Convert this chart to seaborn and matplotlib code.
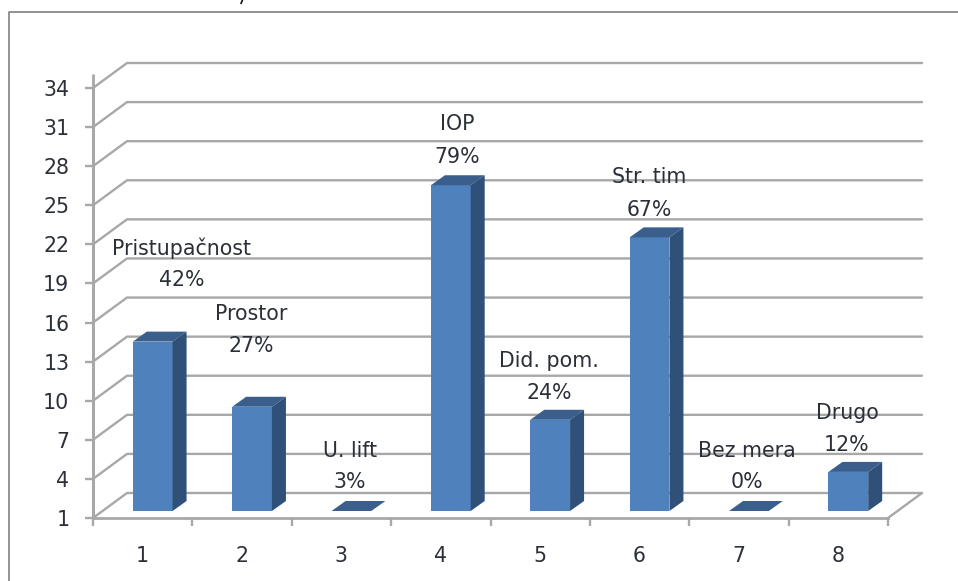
import numpy as np
import seaborn as sns
import matplotlib
matplotlib.use('Agg')
import matplotlib.pyplot as plt
from matplotlib.lines import Line2D

categories = ['1', '2', '3', '4', '5', '6', '7', '8']
values = [14, 9, 1, 26, 8, 22, 0, 4]
names = ['Pristupačnost', 'Prostor', 'U. lift', 'IOP', 'Did. pom.', 'Str. tim', 'Bez mera', 'Drugo']
percents = ['42%', '27%', '3%', '79%', '24%', '67%', '0%', '12%']
y_ticks = [1, 4, 7, 10, 13, 16, 19, 22, 25, 28, 31, 34]

W, H = 958, 581
# label centres in pixels (name y, percent y)
label_x = [182, 251, 350, 457, 549, 649, 747, 847]
name_y = [248, 314, 451, 124, 361, 177, 451, 413]
pct_y = [280, 346, 482, 157, 393, 210, 482, 445]

sns.set_theme(style='white')
plt.rcParams['font.family'] = ['DejaVu Sans']
GRID = '#a8a8a8'
TXT = '#2a2f38'
LW = 1.7
FS = 14.8

fig = plt.figure(figsize=(W / 100, H / 100), dpi=100)


def px_axes(x0, x1, ytop, ybot):
    return fig.add_axes([x0 / W, 1 - ybot / H, (x1 - x0) / W, (ybot - ytop) / H])


ax = px_axes(93, 888, 88, 518)
ax.set_xlim(-0.5, 7.5)
ax.set_ylim(1, 34)
ppx = 795 / 8
ppy = 430 / 33
wall_dx = 34 / ppx
wall_dy = 25 / ppy

# back wall and side lines
for t in y_ticks:
    ax.plot([-0.5, -0.5 + wall_dx, 7.5 + wall_dx], [t, t + wall_dy, t + wall_dy],
            color=GRID, lw=LW, clip_on=False, solid_joinstyle='round')
ax.plot([7.5, 7.5 + wall_dx], [1, 1 + wall_dy], color=GRID, lw=LW, clip_on=False)
# y axis goes a bit above the top tick
ax.plot([-0.5, -0.5], [1, 35], color=GRID, lw=LW + 0.3, clip_on=False)

sns.despine(ax=ax, top=True, right=True)
ax.spines['left'].set_color(GRID)
ax.spines['left'].set_linewidth(LW + 0.3)
ax.spines['bottom'].set_color(GRID)
ax.spines['bottom'].set_linewidth(LW + 0.3)
ax.set_xticks(np.arange(0, 8))
ax.set_xticklabels(categories)
ax.set_xticks(np.arange(-0.5, 8.5), minor=True)
ax.set_yticks(y_ticks)
ax.tick_params(axis='x', which='major', length=0, pad=20, labelsize=FS, labelcolor=TXT)
ax.tick_params(axis='x', which='minor', length=6, width=LW, color=GRID, bottom=True)
ax.tick_params(axis='y', length=6, width=LW, color=GRID, left=True, pad=11, labelsize=FS, labelcolor=TXT)

# bars sit in the middle of the floor, so they get their own shifted axes
ax_bars = px_axes(103, 898, 81, 511)
sns.barplot(x=categories, y=values, ax=ax_bars, color='#4f81bd', saturation=1, width=0.4,
            order=categories, linewidth=0, edgecolor='none')
ax_bars.set_xlim(-0.5, 7.5)
ax_bars.set_ylim(1, 34)
ax_bars.axis('off')

dep_x = 14 / ppx
dep_y = 10 / ppy
for bar, v in zip(ax_bars.patches, values):
    x0 = bar.get_x()
    x1 = x0 + bar.get_width()
    top = max(v, 1)
    ax_bars.fill([x0, x1, x1 + dep_x, x0 + dep_x], [top, top, top + dep_y, top + dep_y],
                 color='#3a5f8c', lw=0, clip_on=False)
    if top > 1:
        ax_bars.fill([x1, x1 + dep_x, x1 + dep_x, x1], [1, 1 + dep_y, top + dep_y, top],
                     color='#2f5079', lw=0, clip_on=False)

for i in range(len(names)):
    fig.text(label_x[i] / W, 1 - name_y[i] / H, names[i], ha='center', va='center', fontsize=FS, color=TXT)
    fig.text(label_x[i] / W, 1 - pct_y[i] / H, percents[i], ha='center', va='center', fontsize=FS, color=TXT)

# outer chart frame
fig.add_artist(Line2D([9 / W, 9 / W, 1], [0, 1 - 12 / H, 1 - 12 / H], transform=fig.transFigure, color='#8a8a8a', lw=1.3))
# speck left over from a caption cut off by the crop
fig.add_artist(Line2D([242.5 / W, 241 / W], [1, 1 - 3.5 / H], transform=fig.transFigure, color='#111111', lw=1.2))

fig.savefig('out.png', dpi=100)
